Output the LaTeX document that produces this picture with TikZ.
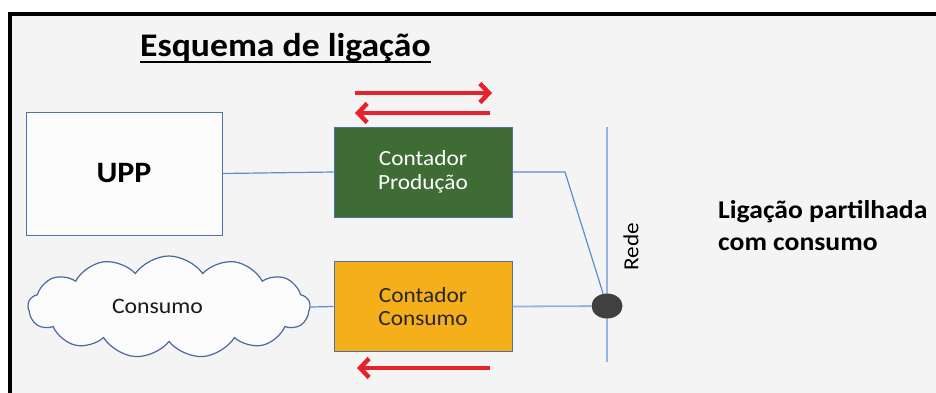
\documentclass[tikz,border=0pt]{standalone}
\usepackage{fontspec}
\setmainfont{Carlito}[FakeStretch=1.08]
\usetikzlibrary{arrows.meta,shapes.symbols,shapes.geometric}
\definecolor{bgc}{HTML}{F4F4F4}
\definecolor{boxline}{HTML}{4F71A8}
\definecolor{prodgreen}{HTML}{3F6C35}
\definecolor{consorange}{HTML}{F5AF1B}
\definecolor{wirec}{HTML}{5B8DD3}
\definecolor{lightwire}{HTML}{93B4E4}
\definecolor{redc}{HTML}{E8222A}
\definecolor{dotc}{HTML}{404040}
\definecolor{cloudline}{HTML}{4A6A9C}
\tikzset{
  meterbox/.style={draw=boxline, line width=1pt, minimum width=178pt, minimum height=90pt, inner sep=0pt, align=center, font=\fontsize{21.6}{23.5}\selectfont},
  wire/.style={draw=wirec, line width=1.2pt},
  lwire/.style={draw=lightwire, line width=1.8pt},
  flowarrow/.style={draw=redc, line width=4.5pt, -{Straight Barb[length=9pt,width=19pt,line width=4.5pt]}},
}
\begin{document}
\begin{tikzpicture}[x=1pt,y=-1pt]
\useasboundingbox (0,0) rectangle (936,392);
\fill[white] (0,0) rectangle (936,392);
\fill[bgc] (10,13.5) rectangle (940,396);
\draw[black, line width=4pt] (10,400) -- (10,13.5) -- (945,13.5);
% title
\node[inner sep=0pt, anchor=base west, font=\fontsize{33}{36}\selectfont\bfseries] (title) at (140,56) {Esquema de ligação};
\draw[line width=2pt] ([yshift=-5.5pt]title.base west) -- ([yshift=-5.5pt]title.base east);
% boxes
\node[draw=boxline, line width=1pt, fill=white!60!bgc, minimum width=196pt, minimum height=123pt, inner sep=0pt, font=\fontsize{29.6}{32}\selectfont\bfseries] (upp) at (124,173.5) {UPP};
\node[meterbox, fill=prodgreen, text=white] (prod) at (423,172) {Contador\\Produção};
\node[meterbox, fill=consorange, text=black!85] (cons) at (423,306.5) {Contador\\Consumo};
\node[cloud, cloud puffs=13, cloud puff arc=110, aspect=2.7, draw=cloudline, line width=1.2pt, fill=white!60!bgc, minimum width=282pt, minimum height=102pt, inner sep=0pt] (cloud) at (169,307) {};
\node[font=\fontsize{22}{24}\selectfont, text=black!90, inner sep=0pt] (cloudtxt) at (157.5,306) {Consumo};
% grid
\coordinate (rtop) at (607,127);
\coordinate (rbot) at (607,362);
\draw[lwire] (rtop) -- (rbot);
\coordinate (bend) at (565,172);
\node[ellipse, fill=dotc, minimum width=31pt, minimum height=25pt, inner sep=0pt] (dot) at (607,306) {};
\draw[wire] (upp.east) -- (prod.west);
\draw[wire] (cloud.east) -- (cons.west);
\draw[wire] (prod.east) -- (bend) -- (dot);
\draw[lwire] (cons.east) -- (dot);
\node[rotate=90, font=\fontsize{21.5}{23}\selectfont, inner sep=0pt] (rede) at (631,247) {Rede};
\node[anchor=base west, align=left, inner sep=0pt, font=\fontsize{25.6}{32}\selectfont\bfseries] (lig) at (718,250) {Ligação partilhada\\com consumo};
% arrows
\coordinate (a1s) at (355,93); \coordinate (a1e) at (492,93);
\coordinate (a2s) at (490,113); \coordinate (a2e) at (355,113);
\coordinate (a3s) at (490,368); \coordinate (a3e) at (357,368);
\draw[flowarrow] (a1s) -- (a1e);
\draw[flowarrow] (a2s) -- (a2e);
\draw[flowarrow] (a3s) -- (a3e);
\end{tikzpicture}
\end{document}
